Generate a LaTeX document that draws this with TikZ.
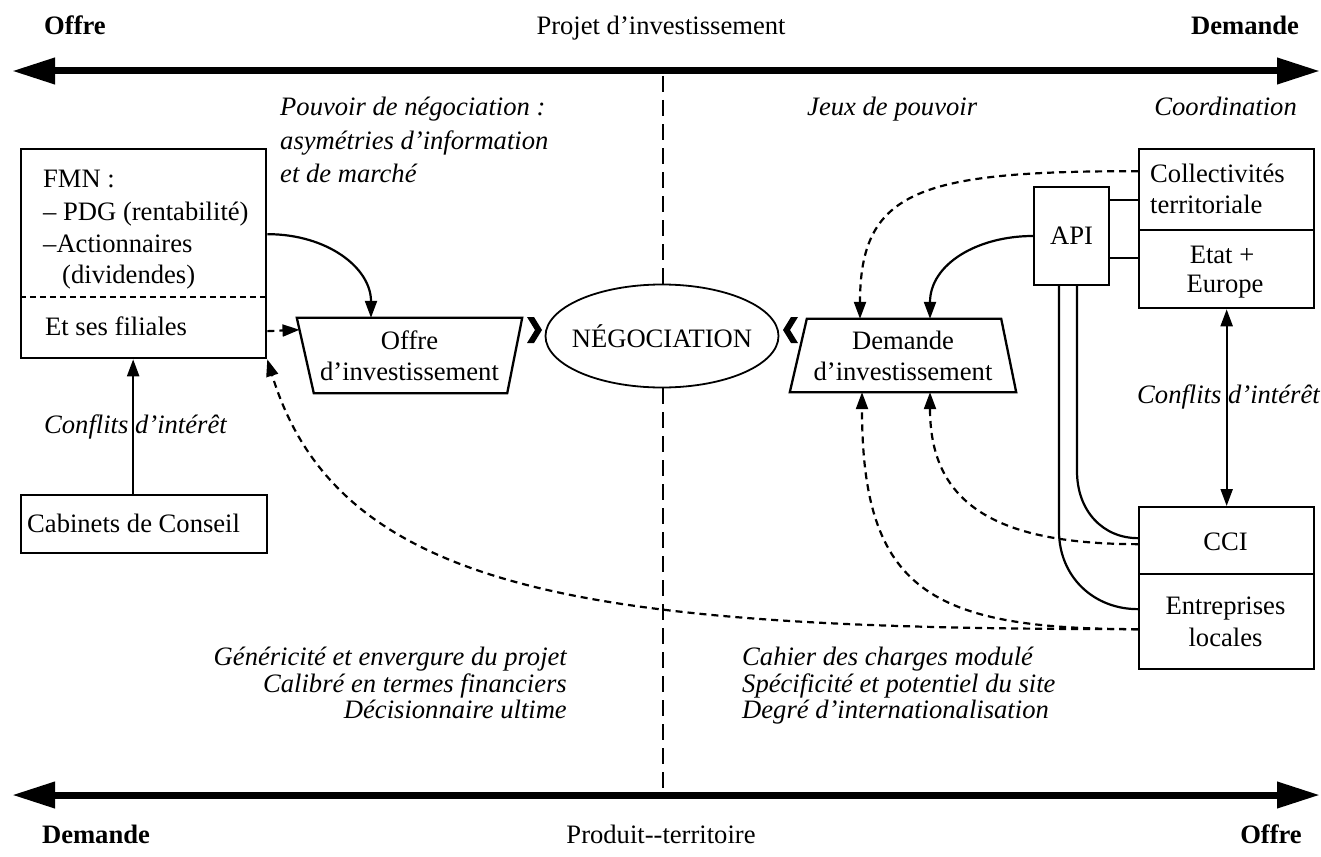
\documentclass[tikz,border=0pt]{standalone}
\usepackage{fontspec}
\setmainfont{Liberation Serif}
\usetikzlibrary{arrows.meta,shapes.geometric}
\newcommand\fsz{\fontsize{26.6pt}{31pt}\selectfont}
\begin{document}
\begin{tikzpicture}[x=1pt,y=-1pt,
  every node/.style={font=\fsz, inner sep=0pt},
  lbl/.style={anchor=base},
  lblw/.style={anchor=base west},
  lble/.style={anchor=base east},
  itl/.style={font=\fsz\itshape},
  bld/.style={font=\fsz\bfseries},
  box/.style={draw, line width=2.3pt},
  conn/.style={line width=2.2pt},
  dconn/.style={line width=2.2pt, dash pattern=on 7pt off 5pt},
  tipped/.style={-{Triangle[length=17pt,width=12pt]}},
  bothtip/.style={{Triangle[length=17pt,width=12pt]}-{Triangle[length=17pt,width=12pt]}},
  big/.style={line width=7pt, {Triangle[length=43pt,width=25pt]}-{Triangle[length=43pt,width=25pt]}},
  sepline/.style={line width=2pt, dash pattern=on 6pt off 4pt},
  middash/.style={line width=2pt, dash pattern=on 16pt off 8pt},
]
\useasboundingbox (0,0) rectangle (1321,856);

% top labels and arrow
\node[lbl,bld] (offreT) at (75,35) {Offre};
\node[lbl] (projet) at (661,35) {Projet d’investissement};
\node[lbl,bld] (demandeT) at (1245,35) {Demande};
\coordinate (ta1) at (12,71);
\coordinate (ta2) at (1320,71);
\draw[big] (ta1) -- (ta2);

% bottom labels and arrow
\coordinate (ba1) at (12,795);
\coordinate (ba2) at (1320,795);
\draw[big] (ba1) -- (ba2);
\node[lbl,bld] (demandeB) at (96,843) {Demande};
\node[lbl] (produit) at (661,843) {Produit-{}-territoire};
\node[lbl,bld] (offreB) at (1271,843) {Offre};

% header italics
\node[lblw,itl] (pouv1) at (280,116) {Pouvoir de négociation :};
\node[lblw,itl] (pouv2) at (280,149) {asymétries d’information};
\node[lblw,itl] (pouv3) at (280,182) {et de marché};
\node[lblw,itl] (jeux) at (807,116) {Jeux de pouvoir};
\node[lble,itl] (coord) at (1297,116) {Coordination};

% negotiation ellipse
\node[draw, ellipse, line width=1.8pt, minimum width=233pt, minimum height=103pt] (nego) at (662,336) {};
\node[lbl] (negotxt) at (662,347) {NÉGOCIATION};
\coordinate (dtop) at (663,76);
\coordinate (dbot) at (663,790);
\draw[middash] (dtop) -- (dtop |- nego.north);
\draw[middash] (dbot |- nego.south) -- (dbot);

% chevrons
\fill (527,317) -- (534,317) -- (542,330) -- (534,343) -- (527,343) -- (535,330) -- cycle;
\fill (798,317) -- (791,317) -- (783,330) -- (791,343) -- (798,343) -- (790,330) -- cycle;

% FMN box
\node[box, minimum width=245pt, minimum height=209pt, anchor=north west] (fmn) at (20,148) {};
\node[lblw] (fmn1) at (43,187) {FMN :};
\node[lblw] (fmn2) at (43,220) {– PDG (rentabilité)};
\node[lblw] (fmn3) at (43,252) {–Actionnaires};
\node[lblw] (fmn4) at (62,283) {(dividendes)};
\draw[sepline] ([yshift=-149pt]fmn.north west) -- ([yshift=-149pt]fmn.north east);
\node[lblw] (fmn5) at (45,335) {Et ses filiales};

% Cabinets
\node[box, minimum width=246pt, minimum height=58pt, anchor=north west] (cab) at (20,494) {};
\node[lblw] (cabtxt) at (27,532) {Cabinets de Conseil};
\draw[conn,tipped] ([xshift=-11pt]cab.north) -- ([xshift=-11pt]cab.north |- fmn.south);
\node[lblw,itl] (confl1) at (44,433) {Conflits d’intérêt};

% Offre trapezium
\node[minimum width=225pt, minimum height=75pt, align=center] (offre) at (409.5,355.5) {Offre\\d’investissement};
\draw[box] (offre.north west) -- (offre.north east) -- ([xshift=-15pt]offre.south east) -- ([xshift=17pt]offre.south west) -- cycle;

% Demande trapezium
\node[minimum width=226pt, minimum height=73pt, align=center] (dem) at (903,355.5) {Demande\\d’investissement};
\draw[box] ([xshift=17pt]dem.north west) -- ([xshift=-15pt]dem.north east) -- (dem.south east) -- (dem.south west) -- cycle;

% API
\node[box, minimum width=75pt, minimum height=98pt] (api) at (1071.5,236) {API};

% Collectivites / Etat
\node[box, minimum width=175pt, minimum height=159pt, anchor=north west] (coll) at (1138,148) {};
\draw[box] ([yshift=-82pt]coll.north west) -- ([yshift=-82pt]coll.north east);
\node[lblw] (coll1) at (1150,182) {Collectivités};
\node[lblw] (coll2) at (1150,213) {territoriale};
\node[lbl] (etat1) at (1222,263) {Etat +};
\node[lbl] (etat2) at (1225,292) {Europe};

% CCI and Entreprises
\node[box, minimum width=175pt, minimum height=67pt, anchor=north west] (cci) at (1138,506) {};
\node[lbl] (ccitxt) at (1225.5,550) {CCI};
\node[box, minimum width=175pt, minimum height=95pt, anchor=north west] (ent) at (1138,573) {};
\node[lbl] (ent1) at (1225.5,614) {Entreprises};
\node[lbl] (ent2) at (1225.5,646) {locales};

\node[lblw,itl] (confl2) at (1137,403) {Conflits d’intérêt};
\draw[conn,bothtip] (coll.south) -- (cci.north);

% API to Collectivites lines
\coordinate (a1) at ([yshift=36pt]api.east);
\coordinate (a2) at ([yshift=-22pt]api.east);
\draw[conn] (a1) -- (a1 -| coll.west);
\draw[conn] (a2) -- (a2 -| coll.west);

% API down to CCI and Entreprises
\draw[conn] ([xshift=5.5pt]api.south) -- ++(0,185) to[out=-90,in=180,out distance=40pt,in distance=35pt] ([yshift=2.5pt]cci.west);
\draw[conn] ([xshift=-12.5pt]api.south) -- ++(0,245) to[out=-90,in=180,out distance=45pt,in distance=45pt] ([yshift=12.5pt]ent.west);

% connectors to trapezia
\draw[conn,tipped] ([yshift=19.5pt]fmn.east) to[out=0,in=90,out distance=60pt,in distance=50pt] ([xshift=-38.5pt]offre.north);
\draw[dconn,tipped] ([yshift=-77.5pt]fmn.east) -- ([xshift=2.7pt,yshift=-12pt]offre.north west);
\draw[conn,tipped] (api.west) to[out=180,in=90,out distance=55pt,in distance=55pt] ([xshift=27pt]dem.north);
\draw[dconn,tipped] ([yshift=57.5pt]coll.west) to[out=180,in=90,out distance=218pt,in distance=129pt] ([xshift=-43pt]dem.north);
\draw[dconn,tipped] ([yshift=-3.5pt]cci.west) to[out=180,in=-90,out distance=148pt,in distance=108pt] ([xshift=27pt]dem.south);
\draw[dconn,tipped] ([yshift=-7.5pt]ent.west) to[out=180,in=-90,out distance=208pt,in distance=198pt] ([xshift=-41pt]dem.south);
\draw[dconn,tipped] ([yshift=-7.5pt]ent.west) to[out=180,in=-73,out distance=538pt,in distance=249pt] (fmn.south east);

% bottom italics
\node[lble,itl] (g1) at (567,665) {Généricité et envergure du projet};
\node[lble,itl] (g2) at (567,692) {Calibré en termes financiers};
\node[lble,itl] (g3) at (567,718) {Décisionnaire ultime};
\node[lblw,itl] (c1) at (742,665) {Cahier des charges modulé};
\node[lblw,itl] (c2) at (742,692) {Spécificité et potentiel du site};
\node[lblw,itl] (c3) at (742,718) {Degré d’internationalisation};
\end{tikzpicture}
\end{document}
